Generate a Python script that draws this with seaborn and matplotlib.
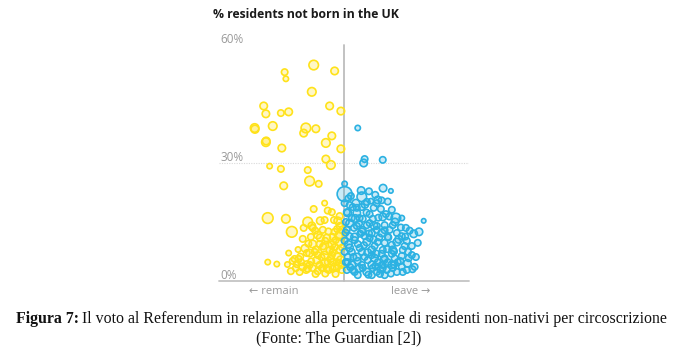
import matplotlib
matplotlib.use("Agg")
import matplotlib.pyplot as plt
import seaborn as sns
import pandas as pd
from matplotlib.colors import to_rgba

# ---- data: remain-majority areas (leave %, % residents not born in UK, electorate in thousands)
remain_leave = [40.3, 31.0, 31.4, 47.0, 39.7, 24.3, 25.0, 29.8, 32.3, 45.4, 49.0, 21.4, 21.5, 27.2,
                37.8, 37.1, 41.0, 46.1, 25.0, 25.1, 44.2, 30.1, 49.0, 44.2, 45.8, 26.2, 29.8, 38.4,
                39.0, 41.9, 30.7, 43.8, 40.3, 25.6, 31.4, 38.4, 43.8, 46.1, 48.0, 33.3, 37.1, 39.7,
                43.2, 48.3, 25.6, 28.5, 32.3,
                40.0, 41.6, 44.5, 46.4, 48.6, 39.4, 40.0, 42.2, 44.5, 47.0, 48.6, 39.0, 41.6, 43.8,
                46.1, 48.0, 35.5, 34.9, 36.8, 38.1, 38.4, 41.3, 42.2, 41.6, 43.8, 44.5, 46.4, 47.0,
                48.6, 49.3, 39.0, 42.9, 45.1, 47.7, 48.6, 47.0, 36.8, 46.1, 38.1, 40.6, 46.4, 44.8,
                47.7, 40.0, 43.2, 46.4, 49.3, 34.6, 33.6, 35.8, 49.0, 48.6,
                36.0, 37.5, 39.5, 41.0, 42.8, 44.0, 45.5, 47.3, 49.4, 49.5, 47.8, 45.0, 42.4, 40.8,
                38.6, 35.3, 37.9, 40.9, 44.0, 47.3, 34.2, 36.3, 45.8, 48.9, 43.3, 31.9, 33.0, 46.8,
                44.8, 42.4]
remain_foreign = [54.9, 53.1, 51.4, 53.4, 48.1, 44.5, 42.5, 42.7, 43.0, 44.5, 43.2, 38.9, 38.6, 39.4,
                  38.9, 37.6, 38.7, 36.9, 35.3, 35.6, 35.1, 33.8, 33.6, 31.0, 29.5, 29.2, 28.5, 28.2,
                  25.4, 24.7, 24.2, 19.8, 18.3, 16.0, 15.8, 15.0, 15.5, 17.5, 15.3, 12.5, 13.5, 14.0,
                  13.0, 11.4, 4.8, 4.3, 7.1,
                  13.5, 11.7, 10.9, 11.2, 9.9, 11.2, 9.4, 9.4, 8.4, 8.6, 7.9, 7.1, 6.6, 6.6,
                  6.6, 6.1, 5.6, 4.3, 3.6, 4.3, 3.1, 5.3, 4.1, 2.5, 4.6, 3.1, 4.8, 3.6,
                  4.6, 2.8, 4.1, 3.3, 2.8, 3.3, 16.5, 12.5, 10.7, 9.2, 7.1, 7.4, 7.4, 4.8,
                  4.8, 3.3, 3.3, 3.1, 4.1, 3.3, 5.1, 2.3, 11.7, 14.0,
                  6.2, 8.3, 5.0, 8.0, 6.0, 10.2, 7.8, 10.4, 8.5, 13.0, 13.2, 12.6, 11.0, 12.8,
                  9.5, 8.0, 2.8, 1.8, 1.9, 1.8, 5.6, 4.8, 5.6, 5.4, 8.8, 4.2, 2.5, 15.5,
                  17.9, 15.3]
remain_electorate = [160, 72, 50, 98, 128, 98, 98, 72, 98, 98, 98, 128, 110, 128,
                     162, 98, 98, 98, 128, 100, 128, 98, 98, 98, 128, 50, 72, 72,
                     162, 72, 98, 50, 72, 200, 128, 162, 72, 72, 98, 200, 72, 98,
                     72, 98, 50, 50, 50,
                     72, 98, 98, 72, 98, 72, 98, 72, 288, 72, 72, 98, 72, 98,
                     72, 98, 72, 72, 98, 72, 72, 98, 72, 72, 98, 72, 72, 98,
                     72, 72, 72, 72, 72, 72, 72, 72, 72, 98, 72, 72, 72, 72,
                     72, 72, 72, 72, 72, 72, 72, 72, 200, 72,
                     72, 98, 72, 72, 72, 72, 98, 72, 72, 98, 72, 72, 98, 72,
                     72, 50, 72, 72, 72, 72, 72, 72, 72, 98, 72, 50, 72, 72,
                     72, 98]

# ---- data: leave-majority areas
leave_leave = [54.4, 56.6, 56.3, 62.4, 50.2, 50.2, 55.7, 60.8, 58.6, 53.8, 65.0, 75.5, 72.3, 66.6,
               62.4, 59.2, 63.0, 60.5, 57.3, 54.1, 58.2, 57.3, 73.6, 70.1, 68.5, 72.6, 70.7, 71.7,
               71.7, 68.5, 50.2, 51.8, 54.1, 51.2, 60.5, 55.0, 51.8, 58.2, 65.6, 50.9, 55.7, 58.9,
               62.1, 60.5, 56.0, 64.0, 53.4, 58.2, 66.9, 53.4, 57.3, 60.8, 51.8, 55.0, 58.9, 62.4,
               65.6, 68.8, 51.2, 54.1, 56.6, 59.8, 63.0, 66.2, 52.5, 55.7, 58.9, 62.1, 65.3, 68.5,
               53.4, 57.3, 60.5, 63.7, 66.9, 70.1,
               51.8, 54.4, 56.6, 59.8, 63.0, 65.3, 51.2, 54.4, 57.6, 60.8, 64.0, 67.2, 52.8, 56.0,
               59.2, 62.4, 65.6, 68.8, 50.2, 50.2, 50.6, 50.9, 52.5, 55.7, 58.9, 62.1, 65.3, 68.5,
               54.1, 56.0, 52.5, 64.6, 66.9, 61.8, 63.4, 55.7, 59.5, 65.3, 50.6, 50.9, 52.2, 69.8,
               54.4, 58.9, 63.0, 61.5,
               50.5, 51.4, 53.0, 53.2, 54.9, 55.2, 56.4, 57.6, 58.0, 59.5, 60.2, 61.3, 61.6, 62.8,
               63.8, 64.2, 65.0, 66.0, 67.5, 68.0, 69.4, 70.3, 71.9, 52.0, 57.8, 60.0, 63.0, 66.3,
               68.2, 53.6, 57.2, 61.0, 64.5, 56.7, 60.0, 62.0, 52.8, 54.8, 59.6, 51.4, 70.5, 73.0,
               74.0, 69.6, 66.0, 71.0, 55.5, 58.0, 62.5, 64.0]
leave_foreign = [38.9, 31.0, 30.0, 30.8, 24.7, 22.1, 21.4, 20.6, 20.3, 19.8, 22.9, 15.3, 12.0, 16.0,
                 16.3, 15.8, 14.2, 14.0, 14.2, 17.3, 17.0, 20.1, 9.7, 10.2, 11.4, 3.6, 5.8, 8.9,
                 6.6, 16.0, 19.8, 19.3, 18.6, 17.3, 19.8, 16.0, 14.7, 14.7, 14.2, 13.0, 12.5, 12.2,
                 12.2, 13.0, 13.0, 11.2, 11.2, 10.9, 9.9, 10.4, 9.9, 9.9, 8.4, 8.4, 7.9, 7.9,
                 7.9, 7.9, 6.1, 6.1, 6.1, 5.8, 5.8, 5.8, 4.1, 4.1, 4.1, 4.1, 4.1, 3.6,
                 2.3, 2.3, 2.3, 2.8, 2.3, 2.8,
                 11.4, 9.4, 11.4, 8.9, 9.7, 9.2, 4.8, 5.1, 5.3, 4.8, 4.8, 4.8, 2.8, 3.3,
                 3.3, 3.3, 3.3, 2.3, 10.2, 7.4, 4.8, 2.8, 7.4, 7.4, 6.6, 6.9, 6.9, 6.4,
                 14.0, 15.8, 16.0, 13.0, 12.2, 18.3, 17.0, 18.8, 18.6, 18.1, 15.0, 17.5, 21.6, 13.5,
                 1.5, 1.5, 1.5, 1.8,
                 12.3, 9.3, 6.1, 13.5, 3.2, 12.0, 9.1, 7.2, 12.1, 10.6, 6.9, 11.1, 2.9, 5.4,
                 8.1, 11.1, 1.9, 7.5, 10.6, 5.1, 8.9, 4.5, 3.0, 3.5, 1.6, 3.8, 12.9, 15.0,
                 13.6, 15.9, 17.4, 16.1, 16.4, 19.5, 21.9, 20.5, 18.8, 14.6, 14.1, 21.0, 7.4, 6.1,
                 12.5, 11.3, 4.1, 12.8, 23.0, 22.8, 23.6, 20.2]
leave_electorate = [50, 72, 98, 72, 50, 392, 162, 98, 50, 98, 35, 35, 98, 162,
                    98, 72, 72, 72, 72, 98, 72, 72, 72, 72, 72, 72, 72, 72,
                    72, 50, 72, 72, 72, 98, 72, 72, 98, 72, 72, 72, 98, 72,
                    98, 72, 72, 72, 98, 72, 98, 72, 98, 72, 98, 72, 98, 72,
                    98, 72, 72, 98, 72, 98, 72, 72, 98, 72, 98, 72, 98, 72,
                    72, 98, 72, 72, 72, 72,
                    72, 72, 72, 72, 72, 72, 72, 72, 72, 72, 72, 72, 72, 72,
                    72, 72, 72, 72, 72, 72, 72, 72, 72, 72, 72, 72, 72, 72,
                    72, 72, 72, 72, 72, 72, 72, 72, 72, 72, 72, 72, 72, 72,
                    72, 72, 72, 72,
                    72, 98, 72, 72, 98, 72, 72, 98, 72, 72, 98, 72, 72, 98,
                    72, 72, 72, 72, 98, 72, 72, 98, 72, 72, 72, 72, 72, 98,
                    72, 98, 72, 72, 72, 98, 72, 72, 72, 72, 98, 72, 72, 72,
                    98, 72, 72, 72, 98, 72, 98, 72]

y_ticks = [0, 30, 60]
y_tick_labels = ["0%", "30%", "60%"]
title = "% residents not born in the UK"
x_labels = ["\u2190 remain", "leave \u2192"]
caption_bold = "Figura 7:"
caption_line1 = "Il voto al Referendum in relazione alla percentuale di residenti non-nativi per circoscrizione"
caption_line2 = "(Fonte: The Guardian [2])"

remain_df = pd.DataFrame({"leave": remain_leave, "foreign": remain_foreign, "electorate": remain_electorate})
leave_df = pd.DataFrame({"leave": leave_leave, "foreign": leave_foreign, "electorate": leave_electorate})

sns.set_theme(style="white")
plt.rcParams['font.family'] = ['Open Sans', 'DejaVu Sans']

W, H = 674, 347
fig = plt.figure(figsize=(W / 100, H / 100), dpi=100)
fig.patch.set_facecolor("white")
ax = fig.add_axes([219 / W, (H - 281) / H, 250 / W, (281 - 45) / H])
ax.set_xlim(10, 90)
ax.set_ylim(0, 60)
ax.axis("off")

YELLOW = "#FFE21A"
BLUE = "#2BB1E2"

# reference lines
ax.plot([10, 90], [30, 30], color="#d9d9d9", lw=0.8, ls=(0, (1, 1.2)), zorder=0)
ax.plot([10, 90], [0, 0], color="#c4c4c4", lw=1.3, zorder=0, clip_on=False)
ax.plot([50, 50], [0, 60], color="#bdbdbd", lw=1.3, zorder=0, clip_on=False)

for df, col in [(remain_df, YELLOW), (leave_df, BLUE)]:
    sns.scatterplot(data=df, x="leave", y="foreign", size="electorate",
                    sizes=(0, 118), size_norm=(0, 400), color=col,
                    facecolor=to_rgba(col, 0.25), edgecolor=col, linewidth=1.2,
                    legend=False, ax=ax, clip_on=False, zorder=2)

for v, lab in zip(y_ticks, y_tick_labels):
    ax.annotate(lab, xy=(10, v), xytext=(1, -0.5), textcoords="offset points",
                ha="left", va="bottom", color="#9a9a9a", fontsize=8.5)

ax.text(27.5, -2.6, x_labels[0], ha="center", va="center", color="#9a9a9a", fontsize=8)
ax.text(71.3, -2.6, x_labels[1], ha="center", va="center", color="#9a9a9a", fontsize=8)

fig.text(213 / W, 1 - 15 / H, title, ha="left", va="center", fontsize=8.8,
         fontweight="bold", color="#1a1a1a")

# caption
r = fig.canvas.get_renderer()
cap_font = dict(family=["Liberation Serif", "DejaVu Serif"], fontsize=11.4, color="#111111")
t1 = fig.text(0, 1 - 319 / H, caption_bold, fontweight="bold", va="center", ha="left", **cap_font)
t2 = fig.text(0, 1 - 319 / H, " " + caption_line1, va="center", ha="left", **cap_font)
w1 = t1.get_window_extent(r).width
w2 = t2.get_window_extent(r).width
left = 341.5 - (w1 + w2) / 2
t1.set_x(left / W)
t2.set_x((left + w1) / W)
fig.text(339 / W, 1 - 338 / H, caption_line2, ha="center", va="center", **cap_font)

fig.savefig("out.png", dpi=100, facecolor="white")
